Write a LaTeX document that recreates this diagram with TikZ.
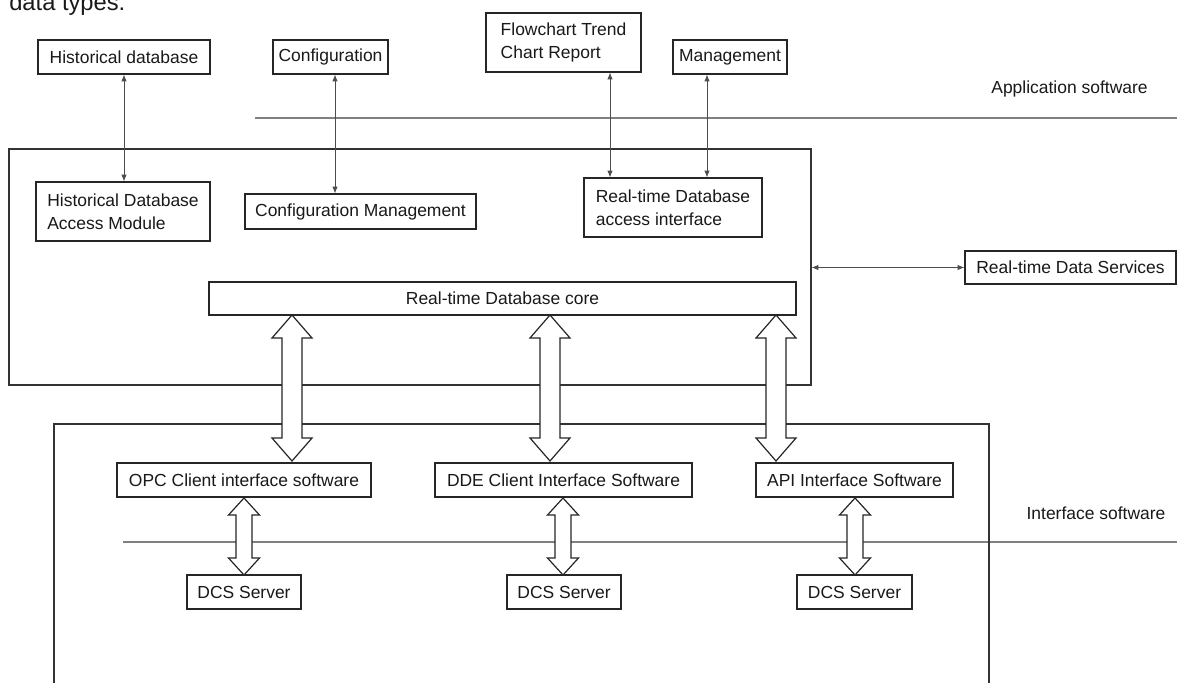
\documentclass[tikz,border=0pt]{standalone}
\usepackage{fontspec}
\setmainfont{Liberation Sans}
\usetikzlibrary{arrows.meta}
\newcommand\mybox[7][]{\node[boxst, minimum width={(#5-#3)*0.75pt}, minimum height={(#6-#4)*0.75pt}, #1] (#2) at ({(#3+#5)/2},{(#4+#6)/2}) {#7};}
\newcommand\fatarrow[6]{\draw[fat] (#1,#2) -- (#1+#4,#2+#6) -- (#1+#5,#2+#6) -- (#1+#5,#3-#6) -- (#1+#4,#3-#6) -- (#1,#3) -- (#1-#4,#3-#6) -- (#1-#5,#3-#6) -- (#1-#5,#2+#6) -- (#1-#4,#2+#6) -- cycle;}
\begin{document}
\begin{tikzpicture}[x=0.75pt,y=-0.75pt,
  boxst/.style={draw=black!85, line width=0.9pt, fill=white, inner sep=0pt, font=\fontsize{13.1pt}{17pt}\selectfont, text=black!90},
  framest/.style={draw=black!80, line width=0.9pt, inner sep=0pt},
  lbl/.style={inner sep=0pt, font=\fontsize{13.1pt}{17pt}\selectfont, text=black!90},
  sepline/.style={draw=black!50, line width=0.8pt},
  tarrow/.style={draw=black!70, line width=0.6pt, {Latex[length=5pt,width=4pt]}-{Latex[length=5pt,width=4pt]}},
  fat/.style={draw=black!85, line width=0.9pt, fill=white, line join=miter}
]
\clip (0,0) rectangle (1177,682);
\fill[white] (0,0) rectangle (1177,682);

% cut-off caption at top
\node[lbl, font=\fontsize{17.8pt}{21pt}\selectfont, anchor=base west] (cap) at (9,10) {data types.};

% separator lines
\draw[sepline] (255,118) coordinate (appL) -- (1177,118) coordinate (appR);
\draw[sepline] (123,542) coordinate (ifL) -- (1177,542) coordinate (ifR);

% frames
\node[framest, minimum width={802*0.75pt}, minimum height={236*0.75pt}] (rtframe) at (410,267) {};
\coordinate (ifBL) at (54,700);
\coordinate (ifTL) at (54,424);
\coordinate (ifTR) at (989,424);
\coordinate (ifBR) at (989,700);
\draw[framest] (ifBL) -- (ifTL) -- (ifTR) -- (ifBR);

% application boxes
\mybox{hdb}{38}{40}{210}{74}{Historical database}
\mybox{cfg}{273}{40}{388}{74}{Configuration}
\mybox[align=left]{fc}{486}{13}{641}{72}{Flowchart Trend\\Chart Report}
\mybox{mg}{673}{40}{787}{74}{Management}

% real-time database boxes
\mybox[align=left]{hdam}{36}{182}{210}{241}{Historical Database\\Access Module}
\mybox{cm}{245}{194}{476}{229}{Configuration Management}
\mybox[align=left]{rdai}{584}{178}{762}{237}{Real-time Database\\access interface}
\mybox{core}{209}{282}{796}{315}{Real-time Database core}
\mybox{rds}{965}{251}{1176}{284}{Real-time Data Services}

% interface boxes
\mybox{opc}{117}{463}{371}{497}{OPC Client interface software}
\mybox{dde}{435}{463}{692}{497}{DDE Client Interface Software}
\mybox{api}{756}{463}{953}{497}{API Interface Software}
\mybox{dcs1}{187}{575}{301}{609}{DCS Server}
\mybox{dcs2}{507}{575}{621}{609}{DCS Server}
\mybox{dcs3}{797}{575}{912}{609}{DCS Server}

% labels
\node[lbl] (applbl) at (1069.5,89) {Application software};
\node[lbl] (iflbl) at (1096,513) {Interface software};

% thin arrows
\draw[tarrow] (hdb.south) -- (hdb.south |- hdam.north);
\draw[tarrow] (335,0 |- cfg.south) -- (335,0 |- cm.north);
\draw[tarrow] (610,0 |- fc.south) -- (610,0 |- rdai.north);
\draw[tarrow] (707,0 |- mg.south) -- (707,0 |- rdai.north);
\draw[tarrow] (rtframe.east |- rds.west) -- (rds.west);

% fat double arrows
\fatarrow{292}{315}{461}{20}{10}{23}
\fatarrow{550}{315}{461}{20}{10}{23}
\fatarrow{776}{315}{461}{20}{10}{23}
\fatarrow{244}{498}{575}{15.5}{8}{17}
\fatarrow{563}{498}{575}{15.5}{8}{17}
\fatarrow{855}{498}{575}{15.5}{8}{17}
\end{tikzpicture}
\end{document}
